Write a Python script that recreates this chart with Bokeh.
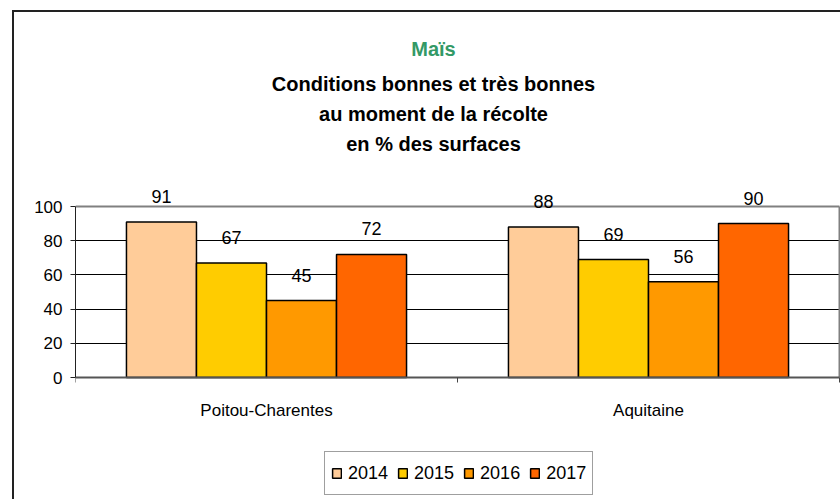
from bokeh.plotting import figure
from bokeh.models import (Range1d, FixedTicker, ColumnDataSource, LabelSet, Label,
                          Legend, LegendItem)
from bokeh.core.properties import value
from bokeh.embed import file_html
from bokeh.resources import INLINE

# ---- data ----
regions = ["Poitou-Charentes", "Aquitaine"]
years = ["2014", "2015", "2016", "2017"]
v2014 = [91, 88]
v2015 = [67, 69]
v2016 = [45, 56]
v2017 = [72, 90]
colors = ["#FFCC99", "#FFCC00", "#FF9900", "#FF6600"]
y_ticks = [0, 20, 40, 60, 80, 100]
title_main = "Maïs"
subtitle_lines = ["Conditions bonnes et très bonnes",
                  "au moment de la récolte",
                  "en % des surfaces"]

series = [v2014, v2015, v2016, v2017]
FONT = "Liberation Sans"

# layout geometry (pixels)
W, H = 840, 499
LEFT = 75
FRAME_W = W - LEFT
FRAME_H = H
ZERO_ROW = 377                  # pixel row of value 0
PX_PER_UNIT = 1.71              # 100 units = 171 px
CAT_PX = 382                    # width of one category

def ypix(sy):
    return (ZERO_ROW - sy) / PX_PER_UNIT

def xpix(sx):
    return (sx - LEFT) / CAT_PX

p = figure(frame_width=FRAME_W, frame_height=FRAME_H,
           output_backend="svg", toolbar_location=None,
           x_range=Range1d(0, xpix(W)), y_range=Range1d(ypix(H), ypix(0)),
           min_border_left=LEFT, min_border_right=0, min_border_top=0,
           min_border_bottom=0, background_fill_color=None,
           border_fill_color=None, outline_line_color=None)

# outer chart frame (left and top edges visible)
p.styles = {
    "background-image": "linear-gradient(#222222,#222222), linear-gradient(#222222,#222222)",
    "background-position": "12px 10px, 12px 10px",
    "background-size": "2px 100%, 100% 2px",
    "background-repeat": "no-repeat",
}

# grid
p.xgrid.grid_line_color = None
p.ygrid.ticker = FixedTicker(ticks=y_ticks[1:-1])
p.ygrid.grid_line_color = "black"
p.ygrid.grid_line_width = 1

# plot-area top and right edges (grey)
p.segment(x0=[0, len(regions)], y0=[y_ticks[-1], 0],
          x1=[len(regions), len(regions)], y1=[y_ticks[-1], y_ticks[-1]],
          line_color="#808080", line_width=2)

bar_w = 0.1833
n = len(years)
renderers = []
lab_x, lab_y, lab_t = [], [], []
for j, (yr, vals, col) in enumerate(zip(years, series, colors)):
    xs = [i + 0.5 + (j - (n - 1) / 2) * bar_w for i in range(len(regions))]
    src = ColumnDataSource(dict(x=xs, top=vals))
    r = p.vbar(x="x", top="top", bottom=0, width=bar_w, source=src,
               fill_color=col, line_color="black", line_width=1.5)
    renderers.append((yr, r))
    lab_x += xs
    lab_y += vals
    lab_t += [str(v) for v in vals]

lsrc = ColumnDataSource(dict(x=lab_x, y=lab_y, t=lab_t))
p.add_layout(LabelSet(x="x", y="y", text="t", source=lsrc, y_offset=19,
                      text_align="center", text_baseline="alphabetic",
                      text_font=value(FONT), text_font_size="18px",
                      text_color="black"))

# axes
p.yaxis.bounds = (y_ticks[0], y_ticks[-1])
p.yaxis.ticker = FixedTicker(ticks=y_ticks)
p.yaxis.major_label_text_font = FONT
p.yaxis.major_label_text_font_size = "17px"
p.yaxis.major_label_text_color = "black"
p.yaxis.major_tick_out = 5
p.yaxis.major_tick_in = 0
p.yaxis.minor_tick_line_color = None
p.yaxis.major_label_standoff = 8
p.yaxis.axis_line_color = "#222222"
p.yaxis.major_tick_line_color = "#222222"

centers = [i + 0.5 for i in range(len(regions))]
bounds = [float(i) for i in range(len(regions) + 1)]
p.xaxis.fixed_location = y_ticks[0]
p.xaxis.bounds = (0, len(regions))
p.xaxis.ticker = FixedTicker(ticks=centers, minor_ticks=bounds)
p.xaxis.major_label_overrides = {c: name for c, name in zip(centers, regions)}
p.xaxis.major_tick_line_color = None
p.xaxis.major_tick_out = 0
p.xaxis.major_tick_in = 0
p.xaxis.minor_tick_out = 5
p.xaxis.minor_tick_in = 0
p.xaxis.minor_tick_line_color = "#444444"
p.xaxis.axis_line_color = "#555555"
p.xaxis.axis_line_width = 2
p.xaxis.major_label_standoff = 18
p.xaxis.major_label_text_font = FONT
p.xaxis.major_label_text_font_size = "17px"
p.xaxis.major_label_text_color = "black"

# titles
tx = xpix(433)
p.add_layout(Label(x=tx, y=ypix(48), text=title_main, text_align="center",
                   text_baseline="alphabetic", text_font=FONT, text_font_size="20px",
                   text_font_style="bold", text_color="#339966"))
for sy, line in zip([83, 113, 143], subtitle_lines):
    p.add_layout(Label(x=tx, y=ypix(sy), text=line, text_align="center",
                       text_baseline="alphabetic", text_font=FONT,
                       text_font_size="20px", text_font_style="bold",
                       text_color="black"))

legend = Legend(items=[LegendItem(label=yr, renderers=[r]) for yr, r in renderers],
                orientation="horizontal", location=(324 - LEFT, H - 495),
                glyph_width=11, glyph_height=12, label_standoff=6, spacing=9,
                padding=6, label_height=30, margin=0,
                label_text_font=FONT, label_text_font_size="18px",
                label_text_color="black",
                border_line_color="#404040", border_line_width=1,
                background_fill_color="white")
p.add_layout(legend, "center")

open("out.html", "w").write(file_html(p, INLINE))
